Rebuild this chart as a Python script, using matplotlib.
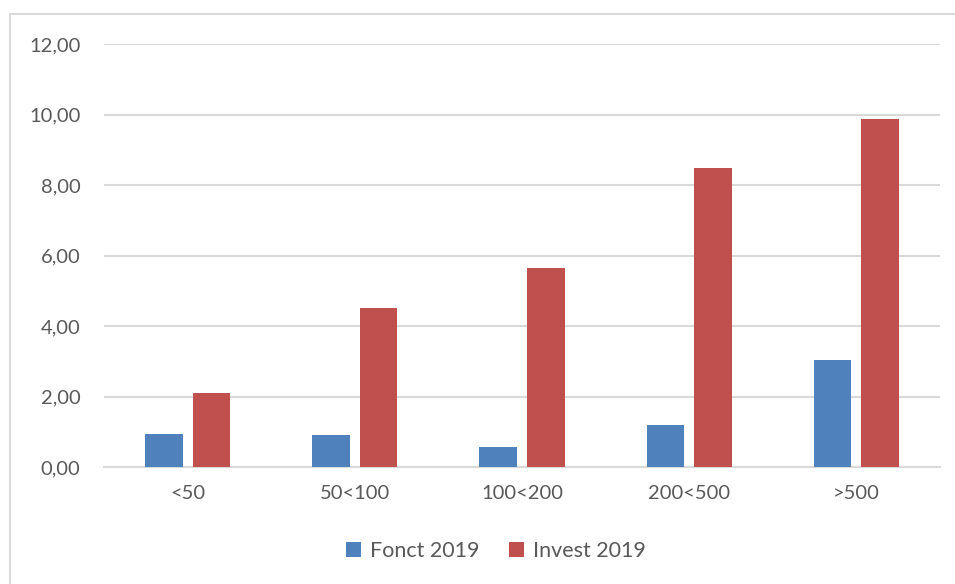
import numpy as np
import matplotlib.pyplot as plt
from matplotlib.patches import Rectangle

categories = ['<50', '50<100', '100<200', '200<500', '>500']
fonct_2019 = [0.94, 0.92, 0.57, 1.20, 3.03]
invest_2019 = [2.10, 4.51, 5.65, 8.48, 9.87]

blue = '#4f81bd'
red = '#c0504d'
grey_txt = '#595959'
grey_line = '#d9d9d9'

plt.rcParams['font.family'] = ['Lato', 'DejaVu Sans']

fig = plt.figure(figsize=(9.55, 5.84), dpi=100)
ax = fig.add_axes([104 / 955, 1 - 467 / 584, 836 / 955, 423 / 584])

x = np.arange(len(categories))
w = 0.225
gap = 0.06
ax.bar(x - (w + gap) / 2, fonct_2019, w, color=blue, label='Fonct 2019', zorder=3)
ax.bar(x + (w + gap) / 2, invest_2019, w, color=red, label='Invest 2019', zorder=3)

ax.set_xlim(-0.5, len(categories) - 0.5)
ax.set_ylim(0, 12)
ax.set_yticks(np.arange(0, 13, 2))
ax.set_yticklabels([f'{v:.2f}'.replace('.', ',') for v in np.arange(0, 13, 2)])
ax.set_xticks(x)
ax.set_xticklabels(categories)
ax.yaxis.grid(True, color=grey_line, linewidth=1.5, zorder=0)
for s in ['top', 'right', 'left']:
    ax.spines[s].set_visible(False)
ax.spines['bottom'].set_color(grey_line)
ax.spines['bottom'].set_linewidth(1.5)
ax.tick_params(axis='both', length=0, labelsize=14.5, colors=grey_txt)
ax.tick_params(axis='y', pad=17)
ax.tick_params(axis='x', pad=13)

# chart frame
fig.patches.append(Rectangle((10 / 955, -0.1), 1.2, (1 - 14 / 584) + 0.1,
                             transform=fig.transFigure, fill=False,
                             edgecolor=grey_line, linewidth=1.5))

fig.legend(loc='center', bbox_to_anchor=(496 / 955, 1 - 551 / 584), ncol=2,
           frameon=False, fontsize=15.5, labelcolor=grey_txt,
           handlelength=0.7, handleheight=0.7, handletextpad=0.4,
           columnspacing=1.4)

fig.savefig('out.png', dpi=100)
